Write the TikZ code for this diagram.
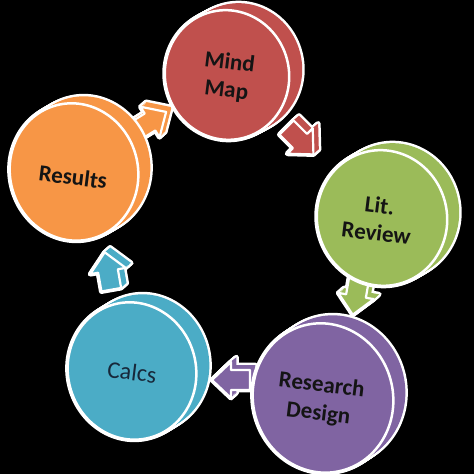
\documentclass[tikz,border=0pt]{standalone}
\usepackage{fontspec}
\setmainfont{Carlito}
\definecolor{cred}{HTML}{C0504D}
\definecolor{cgreen}{HTML}{9BBB59}
\definecolor{cpurple}{HTML}{8064A2}
\definecolor{cblue}{HTML}{4BACC6}
\definecolor{corange}{HTML}{F79646}
\definecolor{ctext}{HTML}{141414}
\definecolor{ctextb}{HTML}{17283A}
% disc: cx cy rx ry dx dy color rot   (pixel coords, y down)
\newcommand\mydisc[8]{%
  \foreach \i in {0,...,10}{\draw[white,line width=5pt] ({#1+\i/10*#5},{474-#2-\i/10*#6}) ellipse[x radius=#3, y radius=#4, rotate=#8];}
  \foreach \i in {0,...,10}{\fill[#7] ({#1+\i/10*#5},{474-#2-\i/10*#6}) ellipse[x radius=#3, y radius=#4, rotate=#8];}
  \filldraw[fill=#7,draw=white,line width=2.5pt] (#1,{474-#2}) ellipse[x radius=#3, y radius=#4, rotate=#8];
}
\def\myarrowpath{(-19,-10) -- (0,-10) -- (0,-18) -- (19,0) -- (0,18) -- (0,10) -- (-19,10) -- cycle}
% arrow: px py angle color
\newcommand\myarrow[4]{%
  \begin{scope}[shift={(#1,{474-#2})}]
    \foreach \i in {0,...,6}{\begin{scope}[shift={({\i*0.9},{\i*0.8})},rotate=#3]\draw[white,line width=5pt,line join=round] \myarrowpath;\end{scope}}
    \foreach \i in {0,...,6}{\begin{scope}[shift={({\i*0.9},{\i*0.8})},rotate=#3]\fill[#4] \myarrowpath;\end{scope}}
    \begin{scope}[rotate=#3]\filldraw[fill=#4,draw=white,line width=2.2pt,line join=round] \myarrowpath;\end{scope}
  \end{scope}
}
\tikzset{lbl/.style={font=\fontsize{23}{28}\selectfont\bfseries,text=ctext,align=center,rotate=-7}}
\begin{document}
\begin{tikzpicture}[x=1pt,y=1pt]
\fill[black] (0,0) rectangle (474,474);
\useasboundingbox (0,0) rectangle (474,474);
% arrows
\myarrow{150}{122}{32}{corange}
\myarrow{300}{141}{-45}{cred}
\myarrow{356}{296}{-100}{cgreen}
\myarrow{231}{380}{180}{cpurple}
\myarrow{108}{271}{100}{cblue}
% discs
\mydisc{227}{75}{62}{65}{13}{-7}{cred}{15}
\mydisc{382}{218}{65}{68}{12}{-7}{cgreen}{15}
\mydisc{74}{172}{64}{69}{12}{-7}{corange}{15}
\mydisc{132}{371}{64}{69}{13}{-8}{cblue}{15}
\mydisc{323}{398}{70}{75}{12}{-8}{cpurple}{15}
% labels
\node[lbl] (mind) at (228,{474-77}) {Mind\\Map};
\node[lbl] (lit) at (378,{474-219}) {Lit.\\Review};
\node[lbl] (res) at (73,{474-177}) {Results};
\node[lbl,font=\fontsize{24}{28}\selectfont,text=ctextb] (calc) at (132,{474-372}) {Calcs};
\node[lbl] (des) at (320,{474-400}) {Research\\Design};
\end{tikzpicture}
\end{document}
